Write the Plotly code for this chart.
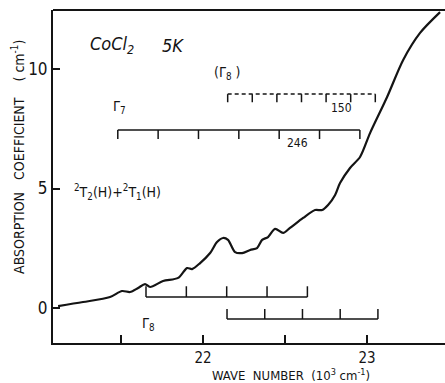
import plotly.graph_objects as go

# Absorption spectrum of CoCl2 at 5 K
wavenumber = [21.116, 21.268, 21.433, 21.506, 21.555, 21.604, 21.646, 21.677, 21.756,
              21.848, 21.902, 21.933, 21.982, 22.043, 22.085, 22.122, 22.152, 22.195,
              22.238, 22.287, 22.329, 22.360, 22.396, 22.439, 22.488, 22.530, 22.610,
              22.683, 22.726, 22.762, 22.805, 22.835, 22.896, 22.957, 23.018, 23.122,
              23.220, 23.323, 23.445]          # 10^3 cm^-1
absorption = [0.08, 0.25, 0.46, 0.71, 0.67, 0.84, 1.00, 0.88, 1.13,
              1.26, 1.67, 1.63, 1.88, 2.30, 2.76, 2.93, 2.85, 2.34,
              2.30, 2.43, 2.51, 2.85, 2.97, 3.31, 3.14, 3.35, 3.77,
              4.10, 4.10, 4.31, 4.73, 5.23, 5.86, 6.32, 7.32, 8.83,
              10.38, 11.51, 12.38]             # cm^-1

# Vibronic progressions: origin (10^3 cm^-1), spacing (cm^-1), number of members
g7_origin, g7_spacing, g7_count = 21.48, 246, 7
g8_dash_origin, g8_dash_spacing, g8_dash_count = 22.15, 150, 7
g8_low_a_origin, g8_low_a_spacing, g8_low_a_count = 21.652, 246, 5
g8_low_b_origin, g8_low_b_spacing, g8_low_b_count = 22.146, 230, 5

x_tickvals = [21.5, 22, 22.5, 23]
x_ticktext = ["", "22", "", "23"]
y_tickvals = [0, 5, 10]
y_ticktext = ["0", "5", "10"]

INK = "#141414"
FONT = "Liberation Sans Narrow, DejaVu Sans Condensed, Roboto Condensed, Arial Narrow, sans-serif"


def members(origin, spacing, count):
    return [origin + i * spacing / 1000.0 for i in range(count)]


def comb(origin, spacing, count, level, tick):
    """Horizontal bar with short ticks at each member of the progression."""
    pos = members(origin, spacing, count)
    bar_x = [pos[0], pos[-1]]
    bar_y = [level, level]
    tx, ty = [], []
    for p in pos:
        tx += [p, p, None]
        ty += [level, level + tick, None]
    return bar_x, bar_y, tx, ty


fig = go.Figure()

fig.add_trace(go.Scatter(
    x=wavenumber, y=absorption, mode="lines",
    line=dict(color=INK, width=2.2, shape="spline", smoothing=0.8),
    hoverinfo="skip", showlegend=False))

combs = [
    (g7_origin, g7_spacing, g7_count, 7.45, -0.38, "solid"),
    (g8_dash_origin, g8_dash_spacing, g8_dash_count, 8.95, -0.34, "4px,3px"),
    (g8_low_a_origin, g8_low_a_spacing, g8_low_a_count, 0.46, 0.45, "solid"),
    (g8_low_b_origin, g8_low_b_spacing, g8_low_b_count, -0.46, 0.42, "solid"),
]
for origin, spacing, count, level, tick, dash in combs:
    bx, by, tx, ty = comb(origin, spacing, count, level, tick)
    fig.add_trace(go.Scatter(x=bx, y=by, mode="lines",
                             line=dict(color=INK, width=1.5, dash=dash),
                             hoverinfo="skip", showlegend=False))
    fig.add_trace(go.Scatter(x=tx, y=ty, mode="lines",
                             line=dict(color=INK, width=1.5),
                             hoverinfo="skip", showlegend=False))


def label(x, y, text, size, xanchor="center", **kw):
    fig.add_annotation(x=x, y=y, xref="x", yref="y", text=text, showarrow=False,
                       xanchor=xanchor, yanchor="middle",
                       font=dict(family=FONT, size=size, color=INK), **kw)


label(21.30, 11.0, "<i>CoCl<sub>2</sub></i>", 18, xanchor="left")
label(21.735, 11.0, "<i>5K</i>", 18, xanchor="left")
label(22.146, 9.83, "(Γ<sub>8</sub>\u00a0)", 14)
label(21.49, 8.41, "Γ<sub>7</sub>", 14)
label(22.843, 8.37, str(g8_dash_spacing), 12)
label(22.575, 6.90, str(g7_spacing), 12)
label(21.20, 4.85, "<sup>2</sup>T<sub>2</sub>(H)+<sup>2</sup>T<sub>1</sub>(H)", 14, xanchor="left")
label(21.665, -0.66, "Γ<sub>8</sub>", 14)

# Axis titles
fig.add_annotation(xref="paper", yref="paper", x=0.607, y=-0.097,
                   text="WAVE\u00a0\u00a0NUMBER\u00a0\u00a0(10<sup>3</sup>\u00a0cm<sup>-1</sup>)",
                   showarrow=False, xanchor="center", yanchor="middle",
                   font=dict(family=FONT, size=13, color=INK))
fig.add_annotation(xref="paper", yref="paper", x=-0.089, y=0.559,
                   text="ABSORPTION\u00a0\u00a0\u00a0COEFFICIENT\u00a0\u00a0\u00a0\u00a0(\u00a0cm<sup>-1</sup>)",
                   textangle=-90, showarrow=False, xanchor="center", yanchor="middle",
                   font=dict(family=FONT, size=14, color=INK))

# Top frame line
fig.add_shape(type="line", xref="paper", yref="paper", x0=0, x1=1, y0=1, y1=1,
              line=dict(color=INK, width=2))

fig.update_xaxes(range=[21.085, 23.475], showline=True, linewidth=2, linecolor=INK,
                 mirror=False, ticks="inside", ticklen=8, tickwidth=2, tickcolor=INK,
                 tickvals=x_tickvals, ticktext=x_ticktext, showgrid=False, zeroline=False,
                 tickfont=dict(family=FONT, size=15, color=INK))
fig.update_yaxes(range=[-1.464, 12.47], showline=True, linewidth=2, linecolor=INK,
                 mirror=False, ticks="inside", ticklen=7, tickwidth=2, tickcolor=INK,
                 tickvals=y_tickvals, ticktext=y_ticktext, showgrid=False, zeroline=False,
                 tickfont=dict(family=FONT, size=17, color=INK))

fig.update_layout(width=445, height=383, margin=dict(l=53, r=0, t=10, b=40),
                  plot_bgcolor="white", paper_bgcolor="white")

fig.write_html("out.html")
